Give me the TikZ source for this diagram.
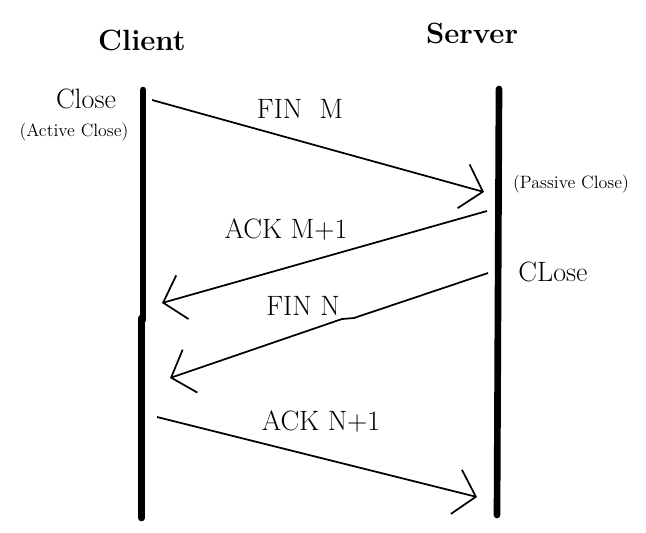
\documentclass[tikz,border=0pt]{standalone}
\usepackage{fontspec}
\usepackage{tikz}
\usetikzlibrary{arrows.meta}
\usetikzlibrary{positioning}

\tikzset{
  life/.style={line width=5pt, line cap=round},
  msg/.style={line width=1.3pt, -{Straight Barb[length=15pt,width=34pt]}},
  big/.style={font=\fontsize{21}{24}\selectfont},
  head/.style={font=\fontsize{22}{25}\selectfont\bfseries},
  small/.style={font=\fontsize{13.4}{16}\selectfont}
}

\begin{document}
\begin{tikzpicture}[x=0.75pt,y=-0.75pt]
          \useasboundingbox (0,0) rectangle (646,532);
          % lifelines
          \coordinate (cTop) at (143,90);
          \coordinate (cMid) at (143,320);
          \coordinate (cMidB) at (141.5,318);
          \coordinate (cBot) at (141.5,518);
          \coordinate (sTop) at (499,89);
          \coordinate (sBot) at (497,515);
          \draw[life] (cTop) -- (cMid);
          \draw[life] (cMidB) -- (cBot);
          \draw[life] (sTop) -- (sBot);
          \node[head] (client) at (142,40) {Client};
          \node[head] (server) at (472,33) {Server};
          \node[big] (cClose) at (86,99) {Close};
          \node[small] (active) at (74,132) {(Active Close)};
          \node[small] (passive) at (571,184) {(Passive Close)};
          \node[big] (sClose) at (553,272) {CLose};
          % messages
          \coordinate (m1a) at (152,100);
          \coordinate (m1b) at (484,192);
          \coordinate (m2a) at (487,211);
          \coordinate (m2b) at (162,303);
          \coordinate (m3a) at (488,273);
          \coordinate (m3j) at (354,318);
          \coordinate (m3k) at (342,319);
          \coordinate (m3b) at (170,378);
          \coordinate (m4a) at (157,417);
          \coordinate (m4b) at (477,497);
          \draw[msg] (m1a) -- (m1b);
          \draw[msg] (m2a) -- (m2b);
          \draw[msg] (m3a) -- (m3j) -- (m3k) -- (m3b);
          \draw[msg] (m4a) -- (m4b);
          \node[big] (fin1) at (300,109) {FIN~~M};
          \node[big] (ack1) at (286,229) {ACK M+1};
          \node[big] (fin2) at (303,306) {FIN N};
          \node[big] (ack2) at (321,421) {ACK N+1};
        \end{tikzpicture}
\end{document}
